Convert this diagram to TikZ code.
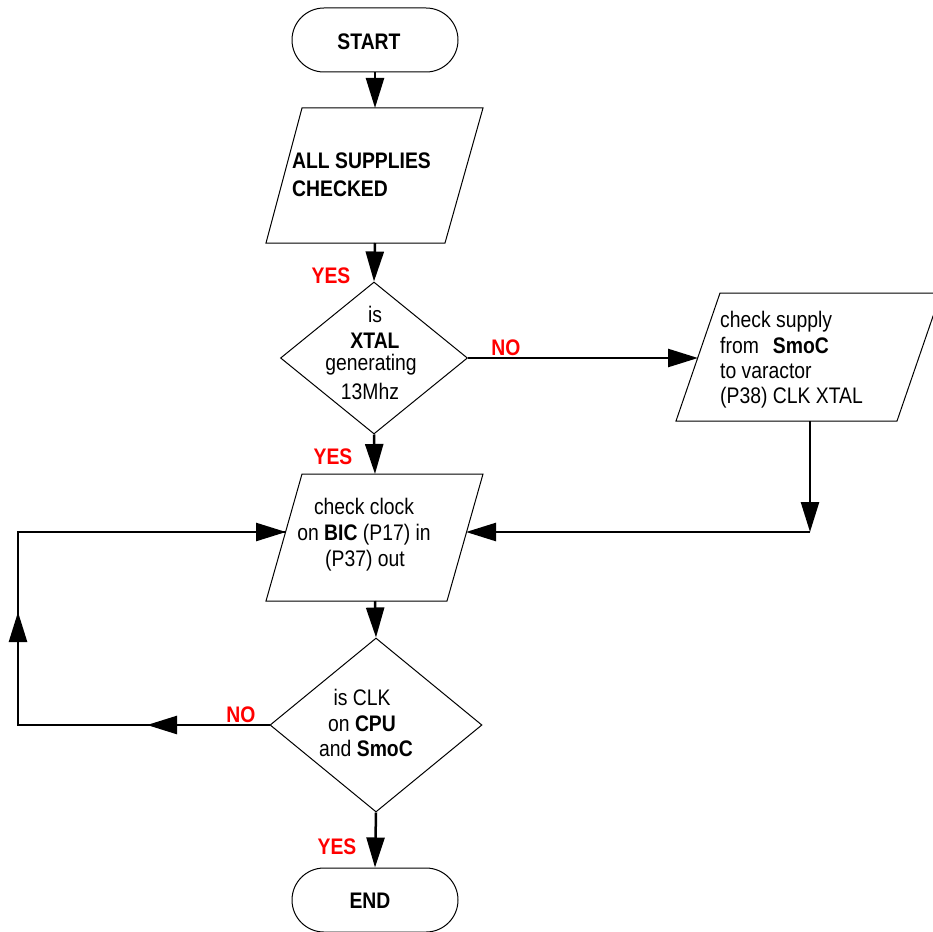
\documentclass[tikz,border=0pt]{standalone}
\usepackage{fontspec}
\setmainfont[FakeStretch=0.86]{Liberation Sans}
\usetikzlibrary{arrows.meta,shapes.geometric}
\begin{document}
\begin{tikzpicture}[x=1pt,y=-1pt,
  boxline/.style={line width=1pt},
  conn/.style={line width=2.5pt},
  arr/.style={conn,-{Triangle[length=30pt,width=18pt]}},
  term/.style={draw,line width=1pt,rounded corners=32pt,minimum width=166pt,minimum height=64pt,inner sep=0pt},
  dia/.style={draw,diamond,line width=1pt,inner sep=0pt},
  txt/.style={font=\fontsize{22.5}{26}\selectfont,inner sep=0pt,anchor=base},
  btxt/.style={font=\fontsize{22.5}{26}\selectfont\bfseries,inner sep=0pt,anchor=base},
  lbl/.style={text=red,font=\fontsize{22.5}{26}\selectfont\bfseries,inner sep=0pt,anchor=base}]
\useasboundingbox (0,0) rectangle (933,931);

% terminals
\node[term] (start) at (375,40) {};
\node[btxt] (startt) at (369,50) {START};
\node[term] (end) at (375,900) {};
\node[btxt] (endt) at (370,908) {END};

% parallelogram 1
\coordinate (p1tl) at (302,108); \coordinate (p1tr) at (483,108);
\coordinate (p1br) at (445,243); \coordinate (p1bl) at (266,243);
\draw[boxline] (p1tl) -- (p1tr) -- (p1br) -- (p1bl) -- cycle;
\coordinate (p1top) at (375,108); \coordinate (p1bot) at (375,243);
\node[btxt,anchor=base west] (p1a) at (292,168) {ALL SUPPLIES};
\node[btxt,anchor=base west] (p1b) at (292,196) {CHECKED};

% diamond 1
\node[dia,minimum width=187pt,minimum height=152pt] (d1) at (374,358) {};
\node[txt] (d1a) at (375,322) {is};
\node[btxt] (d1b) at (375,348) {XTAL};
\node[txt] (d1c) at (371,370) {generating};
\node[txt] (d1d) at (370,399) {13Mhz};

% parallelogram 2
\coordinate (p2tl) at (720,293); \coordinate (p2tr) at (941,293);
\coordinate (p2br) at (897,421); \coordinate (p2bl) at (676,421);
\draw[boxline] (p2tl) -- (p2tr) -- (p2br) -- (p2bl) -- cycle;
\coordinate (p2left) at (698,358); \coordinate (p2bot) at (810,421);
\node[txt,anchor=base west] (p2a) at (720,327) {check supply};
\node[txt,anchor=base west] (p2b) at (720,353) {from\hspace{14pt}\textbf{SmoC}};
\node[txt,anchor=base west] (p2c) at (720,378) {to varactor};
\node[txt,anchor=base west] (p2d) at (720,403) {(P38) CLK XTAL};

% parallelogram 3
\coordinate (p3tl) at (302,474); \coordinate (p3tr) at (483,474);
\coordinate (p3br) at (447,601); \coordinate (p3bl) at (266,601);
\draw[boxline] (p3tl) -- (p3tr) -- (p3br) -- (p3bl) -- cycle;
\coordinate (p3top) at (375,474); \coordinate (p3bot) at (375,601);
\coordinate (p3left) at (286,532); \coordinate (p3right) at (466,532);
\node[txt] (p3a) at (364,514) {check clock};
\node[txt] (p3b) at (364,540) {on \textbf{BIC} (P17) in};
\node[txt] (p3c) at (365,566) {(P37) out};

% diamond 2
\node[dia,minimum width=212pt,minimum height=174pt] (d2) at (376,725) {};
\node[txt] (d2a) at (362,705) {is CLK};
\node[txt] (d2b) at (362,731) {on \textbf{CPU}};
\node[txt] (d2c) at (366,756) {and \textbf{SmoC}};

% labels
\node[lbl] (yes1) at (331,283) {YES};
\node[lbl] (yes2) at (333,464) {YES};
\node[lbl] (yes3) at (337,854) {YES};
\node[lbl] (no1) at (506,355) {NO};
\node[lbl] (no2) at (241,722) {NO};

% connectors
\coordinate (rc) at (810,532);
\coordinate (lc1) at (18,725);
\coordinate (lc2) at (18,532);
\coordinate (m1) at (147,725);
\coordinate (m2) at (18,612);

\draw[arr] (start.south) -- (p1top);
\draw[arr] (p1bot) -- (d1.north);
\draw[arr] (d1.south) -- (p3top);
\draw[arr] (d1.east) -- (p2left);
\draw[arr] (p2bot) -- (rc);
\draw[arr] (rc) -- (p3right);
\draw[arr] (p3bot) -- (d2.north);
\draw[arr] (d2.south) -- (end.north);
\draw[conn,line join=miter] (d2.west) -- (lc1) -- (lc2) -- (p3left);
\draw[arr] (lc2) -- (p3left);
\draw[arr] (d2.west) -- (m1);
\draw[arr] (lc1) -- (m2);
\end{tikzpicture}
\end{document}
